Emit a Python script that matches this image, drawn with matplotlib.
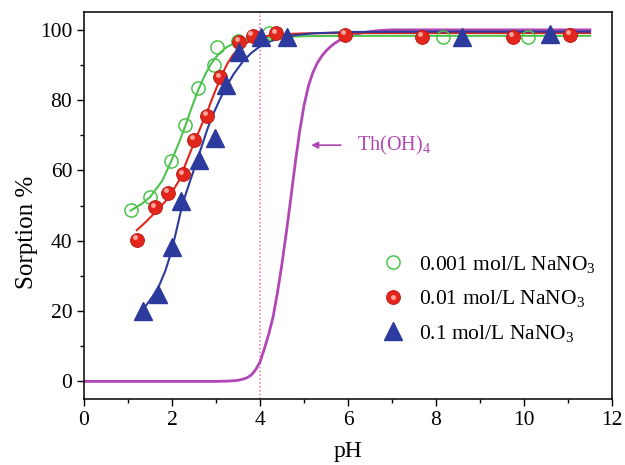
import matplotlib
matplotlib.use('Agg')
import matplotlib.pyplot as plt
import matplotlib.transforms as mtransforms

plt.rcParams['font.family'] = 'Liberation Serif'
plt.rcParams['mathtext.fontset'] = 'custom'
plt.rcParams['mathtext.rm'] = 'Liberation Serif'
plt.rcParams['mathtext.it'] = 'Liberation Serif:italic'
plt.rcParams['font.size'] = 15.5

# measured points
ph_001 = [1.06, 1.50, 1.98, 2.30, 2.60, 2.95, 3.03, 3.51, 4.21, 8.16, 10.10]
sorp_001 = [48.8, 52.4, 62.8, 72.8, 83.5, 89.9, 95.0, 96.7, 99.1, 98.1, 98.1]

ph_01 = [1.20, 1.62, 1.90, 2.25, 2.51, 2.79, 3.10, 3.52, 3.83, 4.37, 5.93, 7.68, 9.76, 11.05]
sorp_01 = [40.2, 49.5, 53.6, 58.9, 68.8, 75.6, 86.5, 96.5, 98.3, 99.0, 98.6, 98.1, 98.1, 98.6]

ph_1 = [1.33, 1.69, 2.00, 2.20, 2.62, 2.98, 3.23, 3.52, 4.02, 4.61, 8.60, 10.58]
sorp_1 = [20.0, 24.8, 38.1, 51.2, 63.1, 69.2, 84.3, 93.6, 97.9, 97.9, 98.1, 98.7]

# fitted curves
fit_ph_001 = [1.06, 1.30, 1.50, 1.78, 1.98, 2.15, 2.30, 2.45, 2.60, 2.75, 2.89, 3.05, 3.23, 3.45, 3.68, 4.0, 4.5, 5.0, 6.0, 8.0, 11.5]
fit_sorp_001 = [48.6, 50.4, 52.4, 57.1, 62.6, 67.6, 72.6, 78.0, 83.0, 87.2, 90.4, 93.0, 95.0, 96.4, 97.2, 97.7, 98.0, 98.2, 98.3, 98.3, 98.3]

fit_ph_01 = [1.20, 1.40, 1.62, 1.90, 2.16, 2.39, 2.60, 2.79, 2.95, 3.10, 3.25, 3.38, 3.55, 3.76, 4.0, 4.21, 4.6, 5.0, 6.0, 8.0, 11.5]
fit_sorp_01 = [43.0, 45.3, 48.1, 51.9, 57.1, 64.4, 70.8, 76.4, 81.6, 86.2, 90.2, 92.8, 95.0, 96.8, 97.8, 98.4, 98.8, 99.0, 99.1, 99.1, 99.1]

fit_ph_1 = [1.40, 1.55, 1.69, 1.85, 2.00, 2.24, 2.40, 2.62, 2.80, 2.92, 3.08, 3.23, 3.40, 3.61, 3.80, 3.99, 4.20, 4.44, 4.8, 5.2, 6.0, 8.0, 11.5]
fit_sorp_1 = [21.4, 24.0, 26.7, 31.5, 37.5, 50.5, 56.6, 64.8, 71.6, 75.6, 80.0, 83.8, 87.4, 91.0, 93.4, 95.2, 96.6, 97.6, 98.5, 99.0, 99.4, 99.5, 99.5]

th_ph = [0.0, 3.0, 3.3, 3.5, 3.6, 3.7, 3.8, 3.9, 4.0, 4.1, 4.2, 4.3, 4.4, 4.5, 4.6, 4.7, 4.8, 4.9,
         5.0, 5.1, 5.2, 5.3, 5.4, 5.5, 5.6, 5.7, 5.8, 5.9, 6.0, 6.15, 6.3, 6.5, 6.7, 7.0, 11.5]
th_sorp = [0.0, 0.0, 0.1, 0.3, 0.6, 1.0, 1.8, 3.3, 5.5, 9.3, 13.5, 18.5, 25.5, 33.5, 42.5, 52.0, 62.0, 71.0,
           78.5, 84.0, 87.8, 90.5, 92.5, 94.0, 95.2, 96.2, 97.0, 97.6, 98.1, 98.7, 99.1, 99.5, 99.8, 100.0, 100.0]

green = '#4cc34c'
red = '#e2261c'
blue = '#2b3a9c'
magenta = '#b246b4'

fig = plt.figure(figsize=(6.25, 4.65), dpi=100)
ax = fig.add_axes([0.1344, 0.142, 0.8448, 0.8316])

ax.axvline(4, color='#f26b9c', linestyle=(0, (1, 1.5)), linewidth=1.1, zorder=1)

ax.plot(th_ph, th_sorp, color=magenta, linewidth=2, zorder=2)
ax.plot(fit_ph_001, fit_sorp_001, color=green, linewidth=1.5, zorder=3)
ax.plot(fit_ph_01, fit_sorp_01, color=red, linewidth=1.5, zorder=3)
ax.plot(fit_ph_1, fit_sorp_1, color=blue, linewidth=1.5, zorder=3)

h1, = ax.plot(ph_001, sorp_001, 'o', markersize=9.5, markerfacecolor='none',
              markeredgecolor=green, markeredgewidth=1.1, linestyle='none', zorder=4)
h2a, = ax.plot(ph_01, sorp_01, 'o', markersize=10, markerfacecolor=red,
               markeredgecolor='#b81a12', markeredgewidth=0.6, linestyle='none', zorder=5)
# sphere highlight
offset = mtransforms.ScaledTranslation(-1.5 / 72, 2 / 72, fig.dpi_scale_trans)
h2b, = ax.plot(ph_01, sorp_01, 'o', markersize=3.5, markerfacecolor='#ffb3ad',
               markeredgecolor='none', alpha=0.9, linestyle='none', zorder=6,
               transform=ax.transData + offset)
h3, = ax.plot(ph_1, sorp_1, '^', markersize=12.5, markerfacecolor=blue,
              markeredgecolor=blue, linestyle='none', zorder=5)

ax.legend([h1, (h2a, h2b), h3],
          ['0.001 mol/L NaNO$_3$', '0.01 mol/L NaNO$_3$', '0.1 mol/L NaNO$_3$'],
          loc='upper left', bbox_to_anchor=(0.525, 0.425), frameon=False,
          handlelength=1.2, handletextpad=0.6, labelspacing=0.62, fontsize=15.5)

ax.annotate('', xy=(5.1, 67.2), xytext=(5.9, 67.2),
            arrowprops=dict(arrowstyle='-|>', color=magenta, lw=1.2, mutation_scale=10))
ax.text(6.2, 67.2, 'Th(OH)$_4$', color=magenta, fontsize=14.5, va='center', ha='left')

ax.set_xlim(0, 12)
ax.set_ylim(-5, 105)
ax.set_xticks(range(0, 13, 2))
ax.set_xticks(range(1, 12, 2), minor=True)
ax.set_yticks(range(0, 101, 20))
ax.set_yticks(range(10, 100, 20), minor=True)
ax.tick_params(which='major', direction='out', length=5, width=1, labelsize=15.5)
ax.tick_params(which='minor', direction='out', length=3, width=1)
for s in ax.spines.values():
    s.set_linewidth(1.1)

ax.set_xlabel('pH', fontsize=17, labelpad=8)
ax.set_ylabel('Sorption %', fontsize=18)
ax.yaxis.set_label_coords(-0.088, 0.43)

plt.savefig('out.png', dpi=100)
